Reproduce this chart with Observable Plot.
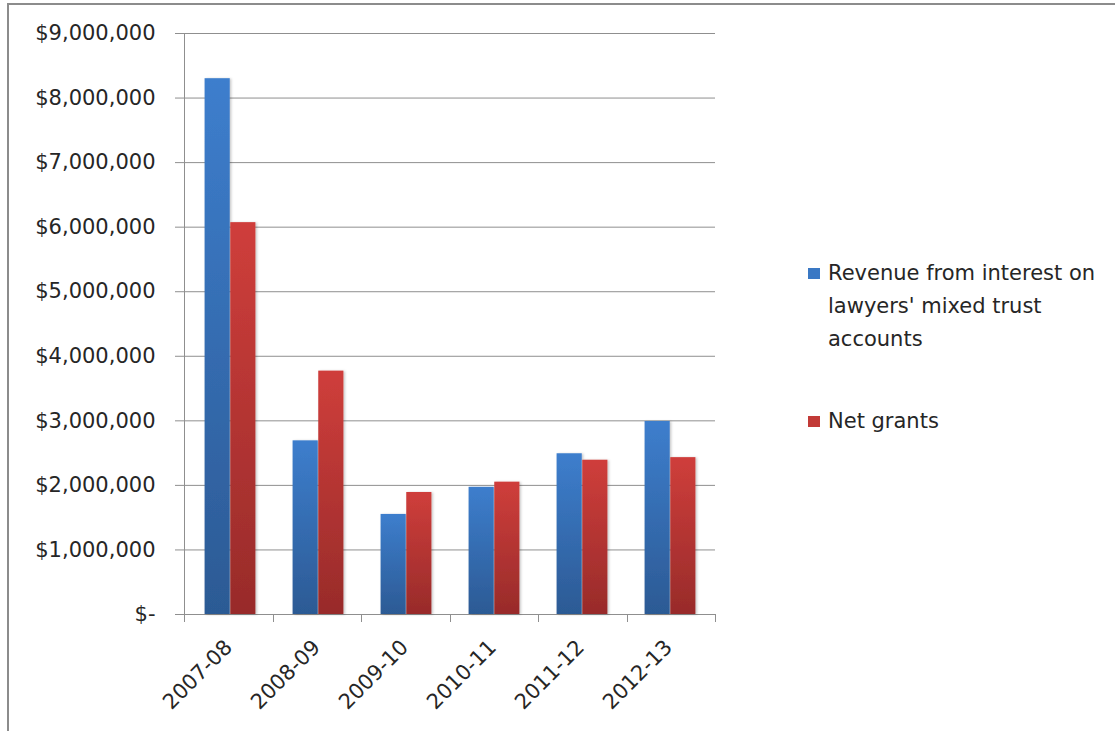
<!DOCTYPE html>
<html>
<head>
<meta charset="utf-8">
<script src="https://cdn.jsdelivr.net/npm/d3@7"></script>
<script src="https://cdn.jsdelivr.net/npm/@observablehq/plot@0.6"></script>
<style>
  html, body { margin: 0; padding: 0; background: #fff; }
  #wrap { position: relative; width: 1115px; height: 731px; overflow: hidden; font-family: "DejaVu Sans", sans-serif; }
  #frame { position: absolute; left: 7px; top: 3px; width: 1200px; height: 800px; border-top: 2px solid #8c8c8c; border-left: 2px solid #8c8c8c; box-sizing: border-box; }
  #chart { position: absolute; left: 0; top: 0; }
  #legend { position: absolute; left: 0; top: 0; pointer-events: none; }
  g[aria-label="bar"] rect { filter: url(#barShadow); }
</style>
</head>
<body>
<div id="wrap">
  <div id="frame"></div>
  <div id="chart"></div>
  <svg id="legend" width="1115" height="731"></svg>
</div>
<script>
// ---- data ----
const years = ["2007-08", "2008-09", "2009-10", "2010-11", "2011-12", "2012-13"];
const revenue = [8300000, 2690000, 1550000, 1970000, 2490000, 2990000];
const netGrants = [6070000, 3770000, 1890000, 2050000, 2390000, 2430000];
const yTicks = [0, 1000000, 2000000, 3000000, 4000000, 5000000, 6000000, 7000000, 8000000, 9000000];
const seriesNames = ["Revenue from interest on lawyers' mixed trust accounts", "Net grants"];
const legendLines = [["Revenue from interest on", "lawyers' mixed trust", "accounts"], ["Net grants"]];

// ---- style ----
const W = 1115, H = 731;
const mL = 184, mR = 400, mT = 33, mB = 117;
const gridColor = "#8f8f8f";
const textColor = "#262626";
const fontSize = 21;
const step = (W - mL - mR) / years.length;
const outer = step * 0.21;

const rows = years.map((y, i) => ({year: y, revenue: revenue[i], net: netGrants[i]}));

const defs = () => {
  const d = d3.create("svg:defs");
  const gb = d.append("linearGradient").attr("id", "gBlue").attr("x1", 0).attr("y1", 0).attr("x2", 0).attr("y2", 1);
  gb.append("stop").attr("offset", "0%").attr("stop-color", "#3d7ecd");
  gb.append("stop").attr("offset", "100%").attr("stop-color", "#2c5a94");
  const gr = d.append("linearGradient").attr("id", "gRed").attr("x1", 0).attr("y1", 0).attr("x2", 0).attr("y2", 1);
  gr.append("stop").attr("offset", "0%").attr("stop-color", "#cf3e3b");
  gr.append("stop").attr("offset", "100%").attr("stop-color", "#982b2a");
  const f = d.append("filter").attr("id", "barShadow").attr("x", "-20%").attr("y", "-5%").attr("width", "150%").attr("height", "110%");
  f.append("feDropShadow").attr("dx", 1.5).attr("dy", 0.5).attr("stdDeviation", 1.2).attr("flood-color", "#000").attr("flood-opacity", 0.22);
  return d.node();
};

const axisLines = (index, scales, values, dims) => {
  const {width, height, marginLeft, marginRight, marginTop, marginBottom} = dims;
  const x0 = marginLeft, x1 = width - marginRight, yb = height - marginBottom;
  const g = d3.create("svg:g").attr("stroke", gridColor).attr("stroke-width", 1).attr("fill", "none");
  g.append("line").attr("x1", x0 + 0.5).attr("x2", x0 + 0.5).attr("y1", marginTop).attr("y2", yb);
  const s = (x1 - x0) / years.length;
  for (let i = 0; i <= years.length; i++) {
    const x = Math.round(x0 + i * s) + 0.5;
    g.append("line").attr("x1", x).attr("x2", x).attr("y1", yb).attr("y2", yb + 8);
  }
  return g.node();
};

const fmt = d3.format(",");
const chart = Plot.plot({
  width: W,
  height: H,
  marginLeft: mL,
  marginRight: mR,
  marginTop: mT,
  marginBottom: mB,
  style: {fontFamily: "DejaVu Sans, sans-serif", fontSize: fontSize + "px", color: textColor, background: "transparent", overflow: "visible"},
  x: {type: "band", domain: years, padding: 0, axis: null},
  y: {domain: [0, 9000000], axis: null},
  marks: [
    defs,
    Plot.gridY(yTicks, {stroke: gridColor, strokeOpacity: 1, strokeWidth: 1}),
    Plot.axisY({ticks: yTicks, tickSize: 9, tickPadding: 20, stroke: gridColor, strokeOpacity: 1, fill: textColor, fontSize: fontSize, label: null,
      tickFormat: d => d === 0 ? "$-" : "$" + fmt(d)}),
    Plot.barY(rows, {x: "year", y: "revenue", fill: "url(#gBlue)", insetLeft: outer, insetRight: step / 2, title: d => seriesNames[0]}),
    Plot.barY(rows, {x: "year", y: "net", fill: "url(#gRed)", insetLeft: step / 2, insetRight: outer, title: d => seriesNames[1]}),
    axisLines,
    Plot.text(years, {x: d => d, frameAnchor: "bottom", rotate: -45, textAnchor: "end", dx: 3, dy: 34, fill: textColor, fontSize: fontSize})
  ]
});
document.getElementById("chart").appendChild(chart);

// ---- legend ----
const lg = d3.select("#legend").attr("font-family", "DejaVu Sans, sans-serif").attr("font-size", fontSize).attr("fill", textColor);
const legendColors = ["#3a78c4", "#c23a37"];
const legendX = 808, textX = 828;
const groupBaselines = [279.5, 427.5];
const lineGap = 33.3;
legendLines.forEach((lines, gi) => {
  const b = groupBaselines[gi];
  lg.append("rect").attr("x", legendX).attr("y", b - 11.5).attr("width", 12).attr("height", 11).attr("fill", legendColors[gi]);
  lines.forEach((t, li) => {
    lg.append("text").attr("x", textX).attr("y", b + li * lineGap).text(t);
  });
});
</script>
</body>
</html>
